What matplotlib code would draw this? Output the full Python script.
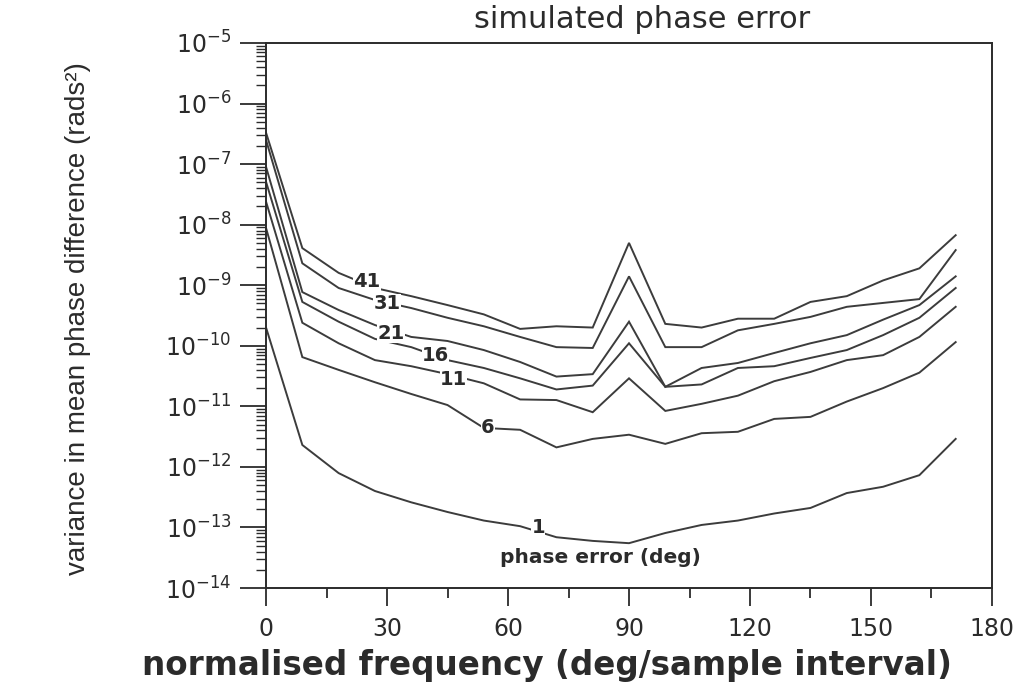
import numpy as np
import matplotlib
matplotlib.use("Agg")
import matplotlib.pyplot as plt
from matplotlib.ticker import LogLocator, LogFormatterMathtext, MultipleLocator, NullFormatter

# normalised frequency (deg / sample interval)
freq = [0, 9, 18, 27, 36, 45, 54, 63, 72, 81, 90, 99, 108, 117, 126, 135, 144, 153, 162, 171]

# variance in mean phase difference (rads^2), one series per phase error (deg)
var_41 = [3.3e-7, 4.1e-9, 1.6e-9, 9.0e-10, 6.6e-10, 4.7e-10, 3.3e-10, 1.9e-10, 2.1e-10, 2.0e-10,
          5.0e-9, 2.3e-10, 2.0e-10, 2.8e-10, 2.8e-10, 5.3e-10, 6.6e-10, 1.2e-9, 1.9e-9, 6.7e-9]
var_31 = [2.5e-7, 2.3e-9, 9.0e-10, 5.7e-10, 4.2e-10, 2.9e-10, 2.1e-10, 1.4e-10, 9.5e-11, 9.2e-11,
          1.4e-9, 9.5e-11, 9.5e-11, 1.8e-10, 2.3e-10, 3.0e-10, 4.4e-10, 5.1e-10, 5.9e-10, 3.8e-9]
var_21 = [9.0e-8, 7.7e-10, 3.9e-10, 2.2e-10, 1.4e-10, 1.2e-10, 8.5e-11, 5.4e-11, 3.1e-11, 3.4e-11,
          2.5e-10, 2.1e-11, 4.3e-11, 5.2e-11, 7.6e-11, 1.1e-10, 1.5e-10, 2.7e-10, 4.7e-10, 1.4e-9]
var_16 = [5.1e-8, 5.3e-10, 2.5e-10, 1.3e-10, 9.5e-11, 5.8e-11, 4.3e-11, 2.9e-11, 1.9e-11, 2.2e-11,
          1.1e-10, 2.1e-11, 2.3e-11, 4.3e-11, 4.6e-11, 6.3e-11, 8.5e-11, 1.5e-10, 2.9e-10, 9.0e-10]
var_11 = [2.4e-8, 2.4e-10, 1.1e-10, 5.8e-11, 4.6e-11, 3.4e-11, 2.4e-11, 1.3e-11, 1.27e-11, 8.0e-12,
          2.9e-11, 8.4e-12, 1.1e-11, 1.5e-11, 2.6e-11, 3.7e-11, 5.8e-11, 7.0e-11, 1.4e-10, 4.4e-10]
var_6 = [8.8e-9, 6.5e-11, 4.0e-11, 2.5e-11, 1.6e-11, 1.05e-11, 4.4e-12, 4.1e-12, 2.1e-12, 2.9e-12,
         3.4e-12, 2.4e-12, 3.6e-12, 3.8e-12, 6.2e-12, 6.7e-12, 1.2e-11, 2.0e-11, 3.6e-11, 1.15e-10]
var_1 = [2.0e-10, 2.3e-12, 7.9e-13, 4.0e-13, 2.6e-13, 1.8e-13, 1.3e-13, 1.05e-13, 6.9e-14, 6.0e-14,
         5.5e-14, 8.1e-14, 1.1e-13, 1.3e-13, 1.7e-13, 2.1e-13, 3.7e-13, 4.7e-13, 7.3e-13, 2.9e-12]

series = {"41": var_41, "31": var_31, "21": var_21, "16": var_16,
          "11": var_11, "6": var_6, "1": var_1}

# in-plot curve labels: (text, frequency, variance)
label_text = ["41", "31", "21", "16", "11", "6", "1"]
label_x = [25.0, 30.0, 31.0, 42.0, 46.5, 55.0, 67.5]
label_y = [1.15e-9, 4.9e-10, 1.6e-10, 6.8e-11, 2.8e-11, 4.4e-12, 1.0e-13]

x_ticks = [0, 30, 60, 90, 120, 150, 180]

ink = "#2b2b2b"
line_col = "#3c3c3c"

fig = plt.figure(figsize=(10.36, 6.90), dpi=100)
ax = fig.add_axes([0.2568, 0.1478, 0.7007, 0.7899])

for name, vals in series.items():
    ax.plot(freq, vals, color=line_col, lw=1.4, solid_joinstyle="miter")

for t, lx, ly in zip(label_text, label_x, label_y):
    ax.text(lx, ly, t, ha="center", va="center", fontsize=14, fontweight="bold",
            color=ink, family="DejaVu Sans",
            bbox=dict(facecolor="white", edgecolor="none", pad=0.2))

ax.text(83, 3.2e-14, "phase error (deg)", ha="center", va="center", fontsize=14.5,
        fontweight="bold", color=ink, family="DejaVu Sans")

ax.set_yscale("log")
ax.set_xlim(0, 180)
ax.set_ylim(1e-14, 1e-5)

ax.yaxis.set_major_locator(LogLocator(base=10, numticks=20))
ax.yaxis.set_minor_locator(LogLocator(base=10, subs=np.arange(2, 10), numticks=200))
ax.yaxis.set_major_formatter(LogFormatterMathtext())
ax.yaxis.set_minor_formatter(NullFormatter())
ax.xaxis.set_minor_locator(MultipleLocator(15))
ax.set_xticks(x_ticks)
ax.set_xticklabels([str(v) for v in x_ticks])

ax.tick_params(axis="y", which="major", direction="out", length=19, width=1.3,
               labelsize=17, pad=6, colors=ink, right=False)
ax.tick_params(axis="y", which="minor", direction="out", length=7, width=1.0,
               colors=ink, right=False)
ax.tick_params(axis="x", which="major", direction="out", length=13, width=1.3,
               labelsize=17, pad=8, colors=ink, top=False)
ax.tick_params(axis="x", which="minor", direction="out", length=7, width=1.3,
               colors=ink, top=False)

for sp in ax.spines.values():
    sp.set_linewidth(1.4)
    sp.set_color(ink)

fig.text(0.620, 0.972, "simulated phase error", ha="center", va="center",
         fontsize=22, color=ink, family="DejaVu Sans")
fig.text(0.528, 0.036, "normalised frequency (deg/sample interval)", ha="center",
         va="center", fontsize=23.5, fontweight="bold", color=ink, family="DejaVu Sans")
fig.text(0.075, 0.538, "variance in mean phase difference (rads²)", rotation=90,
         ha="center", va="center", fontsize=20, color=ink,
         family=["Liberation Sans", "DejaVu Sans"])

fig.savefig("out.png", dpi=100, facecolor="white")
